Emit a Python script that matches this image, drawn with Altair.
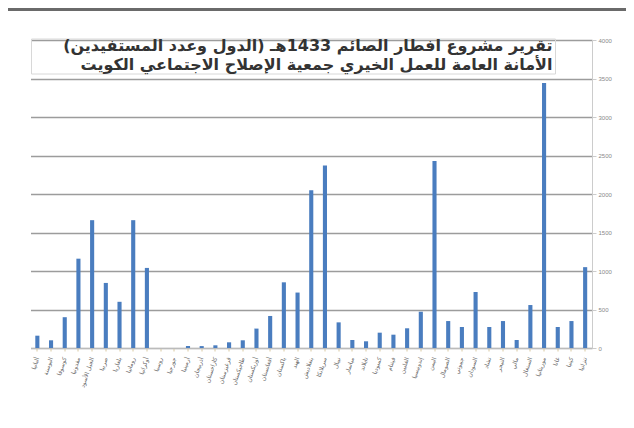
import altair as alt
import pandas as pd

countries = ["ألبانيا","البوسنة","كوسوفا","مقدونيا","الجبل الأسود","صربيا","بلغاريا","رومانيا","أوكرانيا","روسيا",
             "جورجيا","أرمينيا","أذربيجان","كازاخستان","قرغيزستان","طاجيكستان","أوزبكستان","أفغانستان","باكستان","الهند",
             "بنغلاديش","سريلانكا","نيبال","ميانمار","تايلاند","كمبوديا","فيتنام","الفلبين","إندونيسيا","اليمن",
             "الصومال","جيبوتي","السودان","تشاد","النيجر","مالي","السنغال","موريتانيا","غانا","كينيا","تنزانيا"]
values = [160, 100, 400, 1160, 1660, 845, 600, 1660, 1040, 0,
          0, 26, 25, 35, 74, 100, 252, 416, 853, 720,
          2050, 2370, 333, 104, 87, 199, 173, 256, 471, 2430,
          350, 273, 727, 273, 350, 104, 558, 3440, 273, 350, 1050]
y_ticks = [0, 500, 1000, 1500, 2000, 2500, 3000, 3500, 4000]
title_lines = ["تقرير مشروع افطار الصائم 1433هـ (الدول وعدد المستفيدين)",
               "الأمانة العامة للعمل الخيري جمعية الإصلاح الاجتماعي الكويت"]

df = pd.DataFrame({"country": countries, "value": values})

W, H = 561.5, 308

bars = alt.Chart(df).mark_bar(color="#4a7dbf").encode(
    x=alt.X("country:N", sort=None,
            scale=alt.Scale(paddingInner=0.7, paddingOuter=0.35),
            axis=alt.Axis(title=None, labelAngle=-72, labelFontSize=6, labelColor="#666",
                          labelFont="DejaVu Sans", tickColor="#d8c8a0", tickSize=3,
                          domainColor="#bbb", labelPadding=6)),
    y=alt.Y("value:Q", scale=alt.Scale(domain=[0, 4000], nice=False),
            axis=alt.Axis(title=None, orient="right", values=y_ticks, grid=True, format="d",
                          gridColor="#9c9c9c", gridWidth=1.5, labelFontSize=6,
                          labelColor="#888", domainColor="#ccc", tickColor="#ccc",
                          tickSize=4, labelPadding=2)),
)

frame = alt.Chart(pd.DataFrame({"k": [0]})).mark_rule(color="#6a6a6a", strokeWidth=3).encode(
    x=alt.value(-22.5), x2=alt.value(W + 34), y=alt.value(-30.5)
)

box = alt.Chart(pd.DataFrame({"k": [0]})).mark_rect(fill=None, stroke="#d8d8d8", strokeWidth=1).encode(
    x=alt.value(1), x2=alt.value(525), y=alt.value(-1), y2=alt.value(34)
)

tdf = pd.DataFrame({"t": title_lines, "row": [0, 1]})
title1 = alt.Chart(tdf.iloc[[0]]).mark_text(
    align="right", baseline="middle", font="DejaVu Sans", fontWeight="bold",
    fontSize=16, color="#333333").encode(
    x=alt.value(522), y=alt.value(6), text="t:N")
title2 = alt.Chart(tdf.iloc[[1]]).mark_text(
    align="right", baseline="middle", font="DejaVu Sans", fontWeight="bold",
    fontSize=16, color="#333333").encode(
    x=alt.value(522), y=alt.value(24.5), text="t:N")

chart = alt.layer(bars, box, title1, title2, frame).properties(
    width=W, height=H,
    autosize=alt.AutoSizeParams(type="none"),
    padding={"left": 22.5, "top": 32, "right": 34, "bottom": 70},
    background="white",
).configure_view(stroke=None)

chart.save("out.html", embed_options={"renderer": "svg", "actions": False})
